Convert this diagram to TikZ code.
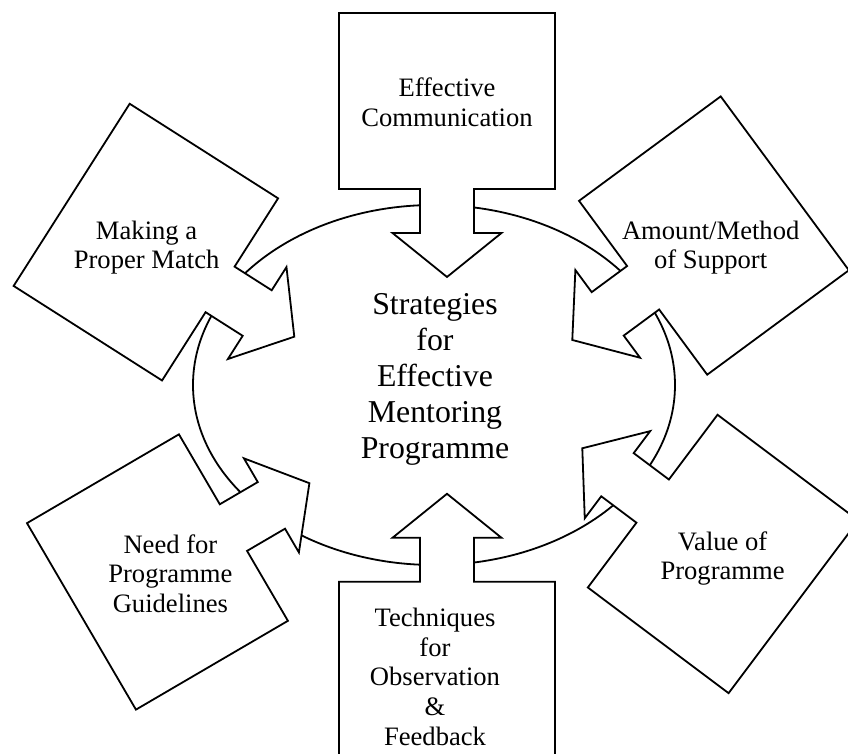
\documentclass[tikz,border=0pt]{standalone}
\usepackage{fontspec}
\setmainfont{Liberation Serif}
\usetikzlibrary{positioning}

\begin{document}
\begin{tikzpicture}[
    x=0.5pt, y=0.5pt,
    callout/.pic={
        \draw[fill=white, line width=0.9pt]
            (0,0) -- (-44,54.5) -- (-44,27) -- (-88,27) -- (-88,108) -- (-264,108)
            -- (-264,-108) -- (-88,-108) -- (-88,-27) -- (-44,-27) -- (-44,-54.5) -- cycle;
    },
    boxtext/.style={align=center, inner sep=0pt, font=\fontsize{13.3}{14.8}\selectfont},
    hubtext/.style={align=center, inner sep=0pt, font=\fontsize{15.9}{18}\selectfont}
]
\useasboundingbox (0,0) rectangle (848,754);
\clip (0,0) rectangle (848,754);

% Ring behind the arrows
\draw[line width=0.9pt] (434,369) ellipse [x radius=241, y radius=180];

% Arrow boxes - tip position and direction
\pic[rotate=-90] (comm) at (447,477) {callout};
\pic[rotate=-32.5] (match) at (294.3,417.3) {callout};
\pic[rotate=-143.6] (support) at (572.3,414) {callout};
\pic[rotate=30.3] (guide) at (309.4,270.8) {callout};
\pic[rotate=143.1] (value) at (582.3,305.7) {callout};
\pic[rotate=90] (obs) at (447,260.2) {callout};

% Texts
\node[hubtext] (hub) at (435,374.2) {Strategies\\for\\Effective\\Mentoring\\Programme};
\node[boxtext] (commtext) at (447,651.6) {Effective\\Communication};
\node[boxtext] (matchtext) at (146.6,506.5) {Making a\\Proper Match};
\node[boxtext] (supporttext) at (710.7,506.4) {Amount/Method\\of Support};
\node[boxtext] (guidetext) at (170.4,180.4) {Need for\\Programme\\Guidelines};
\node[boxtext] (valuetext) at (722.6,195.6) {Value of\\Programme};
\node[boxtext] (obstext) at (435,77.1) {Techniques\\for\\Observation\\\&\\Feedback};

\end{tikzpicture}
\end{document}
